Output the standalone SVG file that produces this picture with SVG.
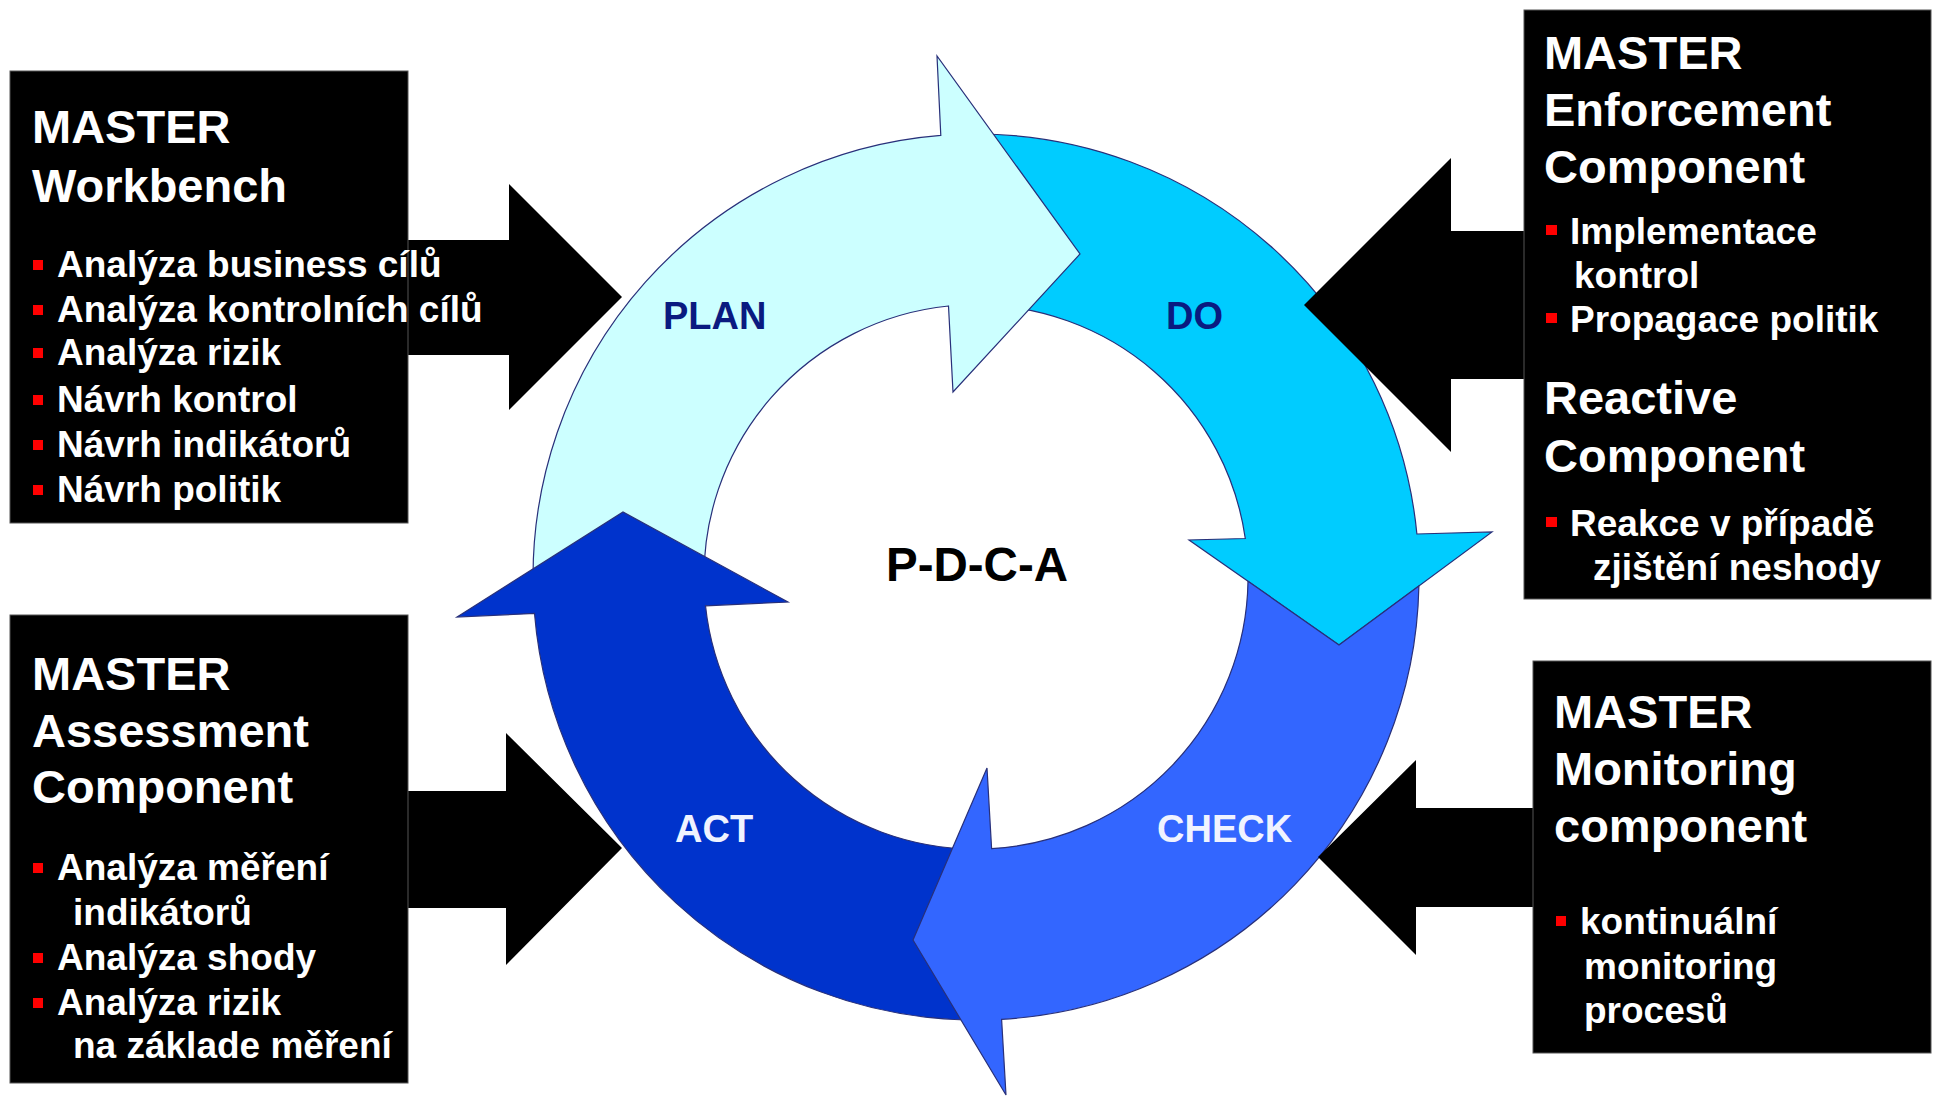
<svg xmlns="http://www.w3.org/2000/svg" width="1934" height="1098" viewBox="0 0 1934 1098">
<style>
.box{fill:#000;stroke:#555;stroke-width:1}
.blk{fill:#000}
.t{font-family:"Liberation Sans",Arial,sans-serif;font-weight:bold;fill:#fff}
.title{font-size:47px}
.item{font-size:37px}
.bul{fill:#f00}
.band{stroke:#28307a;stroke-width:1.2;stroke-linejoin:miter}
.plan{fill:#ccffff}
.do{fill:#00ccff}
.check{fill:#3366ff}
.act{fill:#0033cc}
.lbl{font-family:"Liberation Sans",Arial,sans-serif;font-weight:bold;font-size:38px}
.dark{fill:#0a1a80}
.light{fill:#f0f3ff}
</style>
<rect width="1934" height="1098" fill="#fff"/>

<g id="cycle">
  <g id="do">
    <path class="band do" d="M976,134 A443,443 0 0 1 1416.9,534 L1492,532 L1339,645 L1189,540 L1245.3,538.5 A272,272 0 0 0 976,305 Z"/>
    <text class="lbl dark" x="1166" y="329">DO</text>
  </g>
  <g id="plan">
    <path class="band plan" d="M533.3,592.5 A443,443 0 0 1 940.8,135.4 L937,56 L1080,254 L953,392 L948.5,306 A272,272 0 0 0 704.2,586.5 Z"/>
    <text class="lbl dark" x="663" y="329">PLAN</text>
  </g>
  <g id="act">
    <path class="band act" d="M976,1020 A443,443 0 0 1 534.5,613.5 L457,617 L623,512 L788,602 L705.5,605.8 A272,272 0 0 0 976,849 Z"/>
    <text class="lbl light" x="675" y="842">ACT</text>
  </g>
  <g id="check">
    <path class="band check" d="M1248,581.3 L1339,645 L1418.9,586 A443,443 0 0 1 1001.6,1019.3 L1006,1095 L913,940 L987,768 L991.6,848.6 A272,272 0 0 0 1248,581.3 Z"/>
    <text class="lbl light" x="1157" y="842">CHECK</text>
  </g>
  <text id="pdca" x="886" y="581" font-family="Liberation Sans, Arial, sans-serif" font-weight="bold" font-size="47.5" fill="#000">P-D-C-A</text>
</g>

<g id="connectors">
  <polygon class="blk" points="405,240 509,240 509,184 622,297 509,410 509,355 405,355"/>
  <polygon class="blk" points="405,791 506,791 506,733 622,848 506,965 506,908 405,908"/>
  <polygon class="blk" points="1527,231 1451,231 1451,158 1304,305 1451,452 1451,379 1527,379"/>
  <polygon class="blk" points="1536,808 1416,808 1416,760 1318,857 1416,955 1416,907 1536,907"/>
</g>

<g id="workbench">
  <rect class="box" x="10" y="71" width="398" height="452"/>
  <text class="t title" x="32" y="143">MASTER</text>
  <text class="t title" x="32" y="202">Workbench</text>
  <rect class="bul" x="33" y="260" width="10" height="10"/>
  <text class="t item" x="57" y="277">Analýza business cílů</text>
  <rect class="bul" x="33" y="305" width="10" height="10"/>
  <text class="t item" x="57" y="322">Analýza kontrolních cílů</text>
  <rect class="bul" x="33" y="348" width="10" height="10"/>
  <text class="t item" x="57" y="365">Analýza rizik</text>
  <rect class="bul" x="33" y="395" width="10" height="10"/>
  <text class="t item" x="57" y="412">Návrh kontrol</text>
  <rect class="bul" x="33" y="440" width="10" height="10"/>
  <text class="t item" x="57" y="457">Návrh indikátorů</text>
  <rect class="bul" x="33" y="485" width="10" height="10"/>
  <text class="t item" x="57" y="502">Návrh politik</text>
</g>

<g id="assessment">
  <rect class="box" x="10" y="615" width="398" height="468"/>
  <text class="t title" x="32" y="690">MASTER</text>
  <text class="t title" x="32" y="747">Assessment</text>
  <text class="t title" x="32" y="803">Component</text>
  <rect class="bul" x="33" y="863" width="10" height="10"/>
  <text class="t item" x="57" y="880">Analýza měření</text>
  <text class="t item" x="73" y="925">indikátorů</text>
  <rect class="bul" x="33" y="953" width="10" height="10"/>
  <text class="t item" x="57" y="970">Analýza shody</text>
  <rect class="bul" x="33" y="998" width="10" height="10"/>
  <text class="t item" x="57" y="1015">Analýza rizik</text>
  <text class="t item" x="73" y="1058">na základe měření</text>
</g>

<g id="enforcement">
  <rect class="box" x="1524" y="10" width="407" height="589"/>
  <text class="t title" x="1544" y="69">MASTER</text>
  <text class="t title" x="1544" y="126">Enforcement</text>
  <text class="t title" x="1544" y="183">Component</text>
  <rect class="bul" x="1546" y="225" width="11" height="10"/>
  <text class="t item" x="1570" y="244">Implementace</text>
  <text class="t item" x="1574" y="288">kontrol</text>
  <rect class="bul" x="1546" y="313" width="11" height="10"/>
  <text class="t item" x="1570" y="332">Propagace politik</text>
  <text class="t title" x="1544" y="414">Reactive</text>
  <text class="t title" x="1544" y="472">Component</text>
  <rect class="bul" x="1546" y="517" width="11" height="10"/>
  <text class="t item" x="1570" y="536">Reakce v případě</text>
  <text class="t item" x="1593" y="580">zjištění neshody</text>
</g>

<g id="monitoring">
  <rect class="box" x="1533" y="661" width="398" height="392"/>
  <text class="t title" x="1554" y="728">MASTER</text>
  <text class="t title" x="1554" y="785">Monitoring</text>
  <text class="t title" x="1554" y="842">component</text>
  <rect class="bul" x="1556" y="916" width="10" height="10"/>
  <text class="t item" x="1580" y="934">kontinuální</text>
  <text class="t item" x="1584" y="979">monitoring</text>
  <text class="t item" x="1584" y="1023">procesů</text>
</g>
</svg>
